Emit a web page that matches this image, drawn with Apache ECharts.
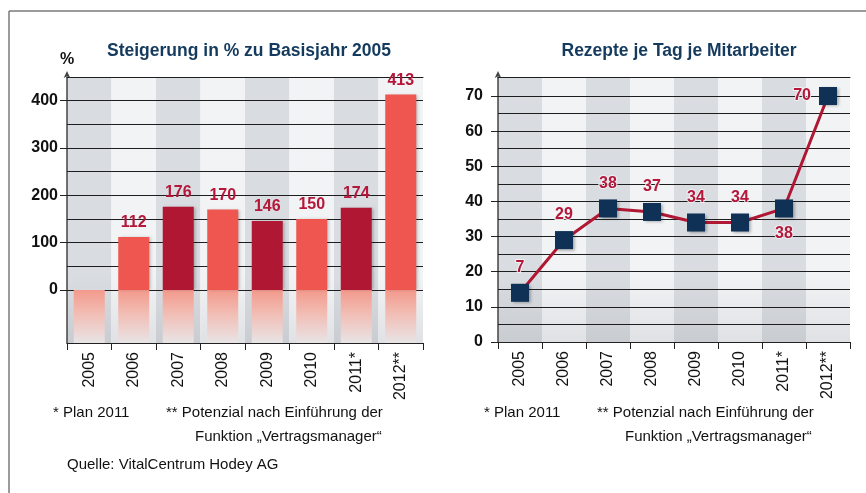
<!DOCTYPE html>
<html><head><meta charset="utf-8">
<script src="https://cdn.jsdelivr.net/npm/echarts@6/dist/echarts.min.js"></script>
<style>html,body{margin:0;padding:0;background:#fff}#c{width:866px;height:493px}</style>
</head><body><div id="c"></div>
<script>
// ---- data ----
const years = ['2005','2006','2007','2008','2009','2010','2011*','2012**'];
const growthPct = [0, 112, 176, 170, 146, 150, 174, 413];
const growthTicks = [0, 100, 200, 300, 400];
const growthLines = [0, 50, 100, 150, 200, 250, 300, 350, 400];
const growthMin = -112, growthMax = 450;
const rxValues = [14, 29, 38, 37, 34, 34, 38, 70];
const rxLabels = ['7', '29', '38', '37', '34', '34', '38', '70'];
const rxTicks = [0, 10, 20, 30, 40, 50, 60, 70];
const rxLines = [5, 10, 15, 20, 25, 30, 35, 40, 45, 50, 55, 60, 65, 70];
const rxMin = 0, rxMax = 75.4;
const titles = ['Steigerung in % zu Basisjahr 2005', 'Rezepte je Tag je Mitarbeiter'];
const notePlan = '* Plan 2011';
const notePot1 = '** Potenzial nach Einführung der';
const notePot2 = 'Funktion „Vertragsmanager“';
const source = 'Quelle: VitalCentrum Hodey AG';

// ---- styles ----
const FONT = 'Liberation Sans, Arial, sans-serif';
const NOTEFONT = '"Liberation Sans", sans-serif';
const NAVY = '#143a5e', RED_D = '#b01733', RED_L = '#ef5650', LBL = '#b5173a';
const G = (a, b) => new echarts.graphic.LinearGradient(0, 0, 0, 1, [{offset: 0, color: a}, {offset: 0.75, color: a}, {offset: 1, color: b}]);
const bandColors = [G('#d9dce1', '#c9ccd1'), G('#f2f3f5', '#dfe1e4')];
const gridLineStyle = {type: 'solid', color: '#1e1e1e', width: 1};

function xAxisCfg(gi) {
  return {
    type: 'category', gridIndex: gi, data: years, position: 'bottom',
    axisLine: {onZero: false, lineStyle: {color: '#222', width: 1}},
    axisTick: {show: true, length: 7, lineStyle: {color: '#222'}},
    axisLabel: {rotate: 90, margin: 9, fontFamily: FONT, fontSize: 16, color: '#111'},
    splitArea: {show: true, interval: 0, areaStyle: {color: bandColors}},
    splitLine: {show: false}
  };
}
function topAxisCfg(gi) {
  return {
    type: 'category', gridIndex: gi, data: years, position: 'top',
    axisLine: {show: true, onZero: false, lineStyle: {color: '#1e1e1e', width: 1}},
    axisTick: {show: false}, axisLabel: {show: false}, splitLine: {show: false}, splitArea: {show: false}
  };
}
function gridMarkLine(vals) {
  return {
    z: 2, silent: true, symbol: ['none', 'none'], label: {show: false},
    lineStyle: gridLineStyle, emphasis: {disabled: true},
    data: vals.map(v => ({yAxis: v}))
  };
}

const chart = echarts.init(document.getElementById('c'));
chart.setOption({
  animation: false,
  backgroundColor: '#fff',
  textStyle: {fontFamily: FONT},
  title: [
    {text: titles[0], left: 244, top: 37, textAlign: 'center', textStyle: {fontFamily: FONT, fontSize: 17.5, fontWeight: 'bold', color: NAVY}},
    {text: titles[1], left: 674, top: 37, textAlign: 'center', textStyle: {fontFamily: FONT, fontSize: 17.5, fontWeight: 'bold', color: NAVY}}
  ],
  grid: [
    {left: 67, top: 77, width: 356, height: 266},
    {left: 498, top: 77, width: 352, height: 265}
  ],
  xAxis: [xAxisCfg(0), xAxisCfg(1), topAxisCfg(0), topAxisCfg(1)],
  yAxis: [
    {
      type: 'value', gridIndex: 0, min: growthMin, max: growthMax,
      name: '%', nameLocation: 'end', nameGap: 9,
      nameTextStyle: {fontFamily: FONT, fontSize: 16, fontWeight: 'bold', color: '#111', align: 'center'},
      axisLine: {show: true, symbol: ['none', 'arrow'], symbolSize: [5, 7], symbolOffset: [0, 6], lineStyle: {color: '#444', width: 1.5}},
      axisTick: {show: true, length: 7, customValues: growthTicks, lineStyle: {color: '#222'}},
      axisLabel: {margin: 9, customValues: growthTicks, fontFamily: FONT, fontSize: 16, fontWeight: 'bold', color: '#111'},
      splitLine: {show: false}
    },
    {
      type: 'value', gridIndex: 1, min: rxMin, max: rxMax,
      axisLine: {show: true, symbol: ['none', 'arrow'], symbolSize: [5, 7], symbolOffset: [0, 6], lineStyle: {color: '#444', width: 1.5}},
      axisTick: {show: true, length: 7, customValues: rxTicks, lineStyle: {color: '#222'}},
      axisLabel: {margin: 15, customValues: rxTicks, fontFamily: FONT, fontSize: 16, fontWeight: 'bold', color: '#111'},
      splitLine: {show: false}
    }
  ],
  series: [
    {
      type: 'bar', xAxisIndex: 0, yAxisIndex: 0, barWidth: 31, z: 3,
      data: years.map(() => growthMin),
      itemStyle: {color: new echarts.graphic.LinearGradient(0, 0, 0, 1, [
        {offset: 0, color: '#f39a8c'}, {offset: 0.5, color: '#f1c1b9'}, {offset: 1, color: '#e8e4e6'}])},
      label: {show: false}, silent: true,
      markLine: gridMarkLine(growthLines)
    },
    {
      type: 'bar', xAxisIndex: 0, yAxisIndex: 0, barWidth: 31, barGap: '-100%', z: 4,
      data: growthPct.map((v, i) => ({
        value: v,
        itemStyle: {color: (i % 2 === 0) ? RED_D : RED_L},
        label: {show: v > 0}
      })),
      itemStyle: {shadowColor: 'rgba(0,0,0,0.25)', shadowBlur: 3, shadowOffsetX: 2, shadowOffsetY: 0},
      label: {position: 'top', distance: 6, fontFamily: FONT, fontSize: 16, fontWeight: 'bold', color: LBL}
    },
    {
      type: 'line', xAxisIndex: 1, yAxisIndex: 1, z: 4,
      symbol: 'rect', symbolSize: 18,
      lineStyle: {color: RED_D, width: 3},
      itemStyle: {color: '#0e3155', shadowColor: 'rgba(0,0,0,0.35)', shadowBlur: 3, shadowOffsetX: 1.5, shadowOffsetY: 1.5},
      data: rxValues.map((v, i) => ({
        value: v,
        label: {position: i === 6 ? 'bottom' : (i === 7 ? 'left' : 'top'), distance: 8}
      })),
      label: {
        show: true, fontFamily: FONT, fontSize: 16, fontWeight: 'bold', color: LBL,
        textBorderColor: 'rgba(242,243,245,0.9)', textBorderWidth: 2,
        formatter: p => rxLabels[p.dataIndex]
      },
      markLine: gridMarkLine(rxLines)
    }
  ],
  graphic: [
    {type: 'line', shape: {x1: 9, y1: 11, x2: 866, y2: 11}, style: {stroke: '#7a7a7a', lineWidth: 1.5}},
    {type: 'line', shape: {x1: 9, y1: 11, x2: 9, y2: 493}, style: {stroke: '#7a7a7a', lineWidth: 1.5}},
    {type: 'text', left: 53, top: 405, style: {text: notePlan, font: '15px ' + NOTEFONT, fill: '#111'}},
    {type: 'text', left: 166, top: 405, style: {text: notePot1, font: '15px ' + NOTEFONT, fill: '#111'}},
    {type: 'text', left: 195, top: 429, style: {text: notePot2, font: '15px ' + NOTEFONT, fill: '#111'}},
    {type: 'text', left: 67, top: 457, style: {text: source, font: '15px ' + NOTEFONT, fill: '#111'}},
    {type: 'text', left: 484, top: 405, style: {text: notePlan, font: '15px ' + NOTEFONT, fill: '#111'}},
    {type: 'text', left: 597, top: 405, style: {text: notePot1, font: '15px ' + NOTEFONT, fill: '#111'}},
    {type: 'text', left: 625, top: 429, style: {text: notePot2, font: '15px ' + NOTEFONT, fill: '#111'}}
  ]
});
</script>
</body></html>
